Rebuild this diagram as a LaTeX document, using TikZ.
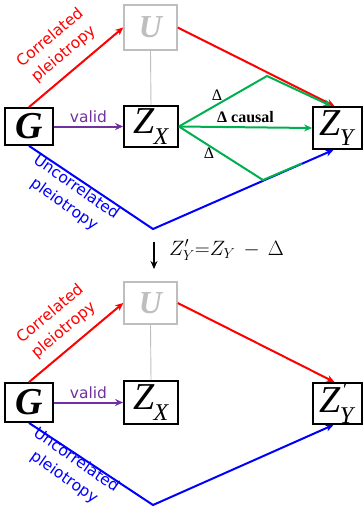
\documentclass[tikz,border=0pt]{standalone}
\usepackage{fontspec}
\setmainfont{Liberation Serif}
\newfontfamily\labfont{DejaVu Sans}
\usetikzlibrary{arrows.meta,calc}
\definecolor{cred}{RGB}{255,0,0}
\definecolor{cblue}{RGB}{0,0,255}
\definecolor{cgreen}{RGB}{0,176,80}
\definecolor{cpurple}{RGB}{112,48,160}
\definecolor{cgray}{RGB}{190,190,190}
\newcommand{\zsub}[1]{\textit{Z}\kern-1pt\raisebox{-0.28em}{\fontsize{24}{24}\selectfont\textit{#1}}}
\newcommand{\zsubp}[1]{\textit{Z}\kern-1pt\rlap{\kern2pt\raisebox{0.42em}{\fontsize{20}{20}\selectfont\textit{′}}}\raisebox{-0.28em}{\fontsize{24}{24}\selectfont\textit{#1}}}
\tikzset{
  box/.style={draw=black,line width=1.8pt,inner sep=0pt,fill=white,font=\fontsize{38}{38}\selectfont},
  gbox/.style={draw=cgray,line width=1.5pt,inner sep=0pt,fill=white,text=cgray,font=\fontsize{32}{32}\selectfont\bfseries\itshape},
  arr/.style={line width=2pt,-{Stealth[length=8pt,width=7pt]}},
  plain/.style={line width=2pt},
  lab/.style={font=\labfont\fontsize{15.5}{21}\selectfont,align=center,inner sep=1pt},
  dlab/.style={font=\fontsize{16}{16}\selectfont,inner sep=0pt,text=black},
}
\begin{document}
\begin{tikzpicture}[x=1pt,y=-1pt]
\useasboundingbox (0,0) rectangle (364,507);
% ---------- top diagram ----------
\node[box,minimum width=48pt,minimum height=37pt] (G) at (29,126.5) {\bfseries\itshape G};
\node[gbox,minimum width=53pt,minimum height=45pt] (U) at (150.5,27.5) {U};
\node[box,minimum width=54pt,minimum height=41pt] (ZX) at (151,126.5) {\zsub{X}};
\node[box,minimum width=49pt,minimum height=42pt] (ZY) at (337.5,128) {\zsub{Y}};
\coordinate (gt) at (267,76);
\coordinate (gb) at (263,180);
\coordinate (bv) at (153,229);
\draw[cgray,line width=0.9pt] (U.south) -- (ZX.north);
\draw[arr,cred] (G.north) -- (U.west);
\draw[arr,cred] (U.east) -- ($(ZY.north)+(-3,0)$);
\draw[arr,cpurple] (G.east) -- node[above=2pt,lab,text=cpurple]{valid} (ZX.west);
\draw[arr,cgreen] (ZX.east) -- (gt) -- ($(ZY.north)+(-6,0)$);
\draw[arr,cgreen] (ZX.east) -- node[above=4pt,dlab,font=\bfseries\fontsize{16}{16}\selectfont]{Δ causal} (ZY.west);
\draw[arr,cblue] (G.south) -- (bv) -- ($(ZY.south)+(-4,0)$);
\draw[plain,cgreen] (ZX.east) -- (gb) -- ($(gb)!0.55!($(ZY.south)+(-4,0)$)$);
\node[dlab] (d1) at (217,95) {Δ};
\node[dlab] (d2) at (209,153) {Δ};
\node[lab,text=cred,rotate=40] (cp) at (57,46) {Correlated\\pleiotropy};
\node[lab,text=cblue,rotate=-35] (up) at (70,196) {Uncorrelated\\pleiotropy};
% ---------- transformation ----------
\coordinate (as) at (154,242);
\coordinate (ae) at (154,269);
\draw[line width=2pt,-{Stealth[length=8pt,width=7pt]}] (as) -- (ae);
\node[anchor=west,inner sep=0pt,font=\fontsize{21}{21}\selectfont] (eq) at (169,250) {$Z'_Y{=}Z_Y\,-\,\Delta$};
% ---------- bottom diagram ----------
\node[box,minimum width=48pt,minimum height=39pt] (G2) at (29,402.5) {\bfseries\itshape G};
\node[gbox,minimum width=53pt,minimum height=42pt] (U2) at (150.5,303) {U};
\node[box,minimum width=54pt,minimum height=43pt] (ZX2) at (151,402.5) {\zsub{X}};
\node[box,minimum width=49pt,minimum height=41pt] (ZY2) at (337.5,403.5) {\zsubp{Y}};
\coordinate (bv2) at (153,505);
\draw[cgray,line width=0.9pt] (U2.south) -- (ZX2.north);
\draw[arr,cred] (G2.north) -- (U2.west);
\draw[arr,cred] (U2.east) -- ($(ZY2.north)+(-3,0)$);
\draw[arr,cpurple] (G2.east) -- node[above=2pt,lab,text=cpurple]{valid} (ZX2.west);
\draw[arr,cblue] (G2.south) -- (bv2) -- ($(ZY2.south)+(-4,0)$);
\node[lab,text=cred,rotate=40] (cp2) at (57,322) {Correlated\\pleiotropy};
\node[lab,text=cblue,rotate=-35] (up2) at (70,469) {Uncorrelated\\pleiotropy};
\end{tikzpicture}
\end{document}
